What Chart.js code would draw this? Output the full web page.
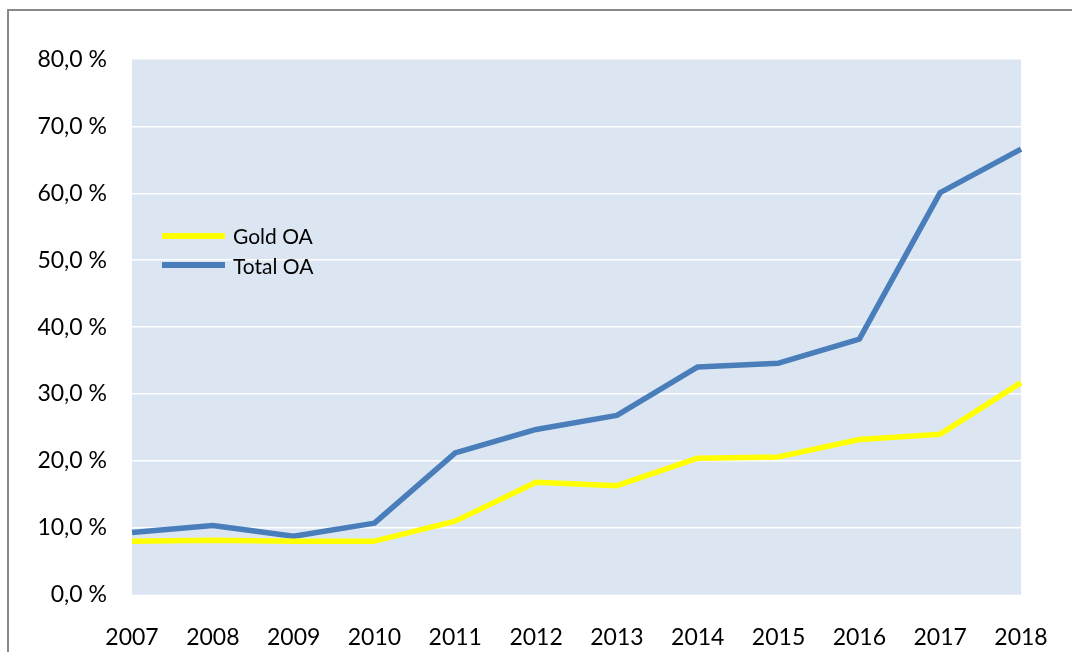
<!DOCTYPE html>
<html>
<head>
<meta charset="utf-8">
<script src="https://cdn.jsdelivr.net/npm/chart.js@4/dist/chart.umd.min.js"></script>
<style>
  html, body { margin: 0; padding: 0; background: #fff; }
  #wrap { position: relative; width: 1072px; height: 652px; overflow: hidden; }
  #frame { position: absolute; left: 7px; top: 9px; width: 1100px; height: 700px;
           border-left: 2px solid #898989; border-top: 2px solid #898989; }
  canvas { position: absolute; left: 0; top: 0; }
  #legend { position: absolute; left: 162px; top: 221px; font-family: Lato, sans-serif; font-size: 21px; color: #000; }
  .item { height: 29.5px; display: flex; align-items: center; }
  .swatch { width: 63px; height: 6px; margin-right: 8px; }
</style>
</head>
<body>
<div id="wrap">
  <div id="frame"></div>
  <canvas id="chart" width="1072" height="652"></canvas>
  <div id="legend"></div>
</div>
<script>
  const years = ['2007', '2008', '2009', '2010', '2011', '2012', '2013', '2014', '2015', '2016', '2017', '2018'];
  const goldOA = [8.0, 8.15, 8.0, 8.0, 11.0, 16.8, 16.3, 20.4, 20.6, 23.2, 24.0, 31.7];
  const totalOA = [9.3, 10.35, 8.75, 10.7, 21.2, 24.7, 26.8, 34.05, 34.6, 38.2, 60.1, 66.6];
  const yTicks = [0, 10, 20, 30, 40, 50, 60, 70, 80];

  const seriesNames = ['Gold OA', 'Total OA'];
  const seriesColors = ['#FFFF00', '#4A7EBB'];

  // plot background like the office chart
  const plotBg = {
    id: 'plotBg',
    beforeDraw(chart) {
      const a = chart.chartArea;
      const ctx = chart.ctx;
      ctx.save();
      ctx.fillStyle = '#DCE6F2';
      ctx.fillRect(a.left, a.top, a.right - a.left, a.bottom - a.top);
      ctx.restore();
    }
  };

  const ctx = document.getElementById('chart').getContext('2d');
  new Chart(ctx, {
    type: 'line',
    data: {
      labels: years,
      datasets: [
        { label: seriesNames[0], data: goldOA, borderColor: seriesColors[0], borderWidth: 5.5 },
        { label: seriesNames[1], data: totalOA, borderColor: seriesColors[1], borderWidth: 5.5 }
      ]
    },
    options: {
      responsive: false,
      animation: false,
      layout: { padding: { left: 0, right: 51, top: 59.5, bottom: 0 } },
      elements: {
        point: { radius: 0, hoverRadius: 0 },
        line: { tension: 0, borderJoinStyle: 'round', borderCapStyle: 'butt' }
      },
      plugins: {
        legend: { display: false },
        tooltip: { enabled: false }
      },
      scales: {
        x: {
          offset: false,
          grid: { display: false, drawTicks: false },
          border: { display: false },
          ticks: {
            color: '#000',
            font: { family: 'Lato', size: 23 },
            padding: 29,
            maxRotation: 0,
            autoSkip: false
          },
          afterFit(scale) {
            scale.height = 57.3;
            scale.paddingLeft = 0;
            scale.paddingRight = 0;
          }
        },
        y: {
          min: 0,
          max: 80,
          afterBuildTicks(scale) { scale.ticks = yTicks.map(v => ({ value: v })); },
          grid: {
            drawTicks: false,
            lineWidth: 1.5,
            color: c => (c.tick && (c.tick.value === 0 || c.tick.value === 80)) ? 'rgba(0,0,0,0)' : '#FFFFFF'
          },
          border: { display: false },
          ticks: {
            color: '#000',
            font: { family: 'Lato', size: 23 },
            padding: 25,
            callback: v => v.toFixed(1).replace('.', ',') + ' %'
          },
          afterFit(scale) { scale.width = 132; }
        }
      }
    },
    plugins: [plotBg]
  });

  // legend sits inside the plot area, left side
  const legend = document.getElementById('legend');
  seriesNames.forEach((name, i) => {
    const row = document.createElement('div');
    row.className = 'item';
    row.innerHTML = `<span class="swatch" style="background:${seriesColors[i]}"></span><span>${name}</span>`;
    legend.appendChild(row);
  });
</script>
</body>
</html>
